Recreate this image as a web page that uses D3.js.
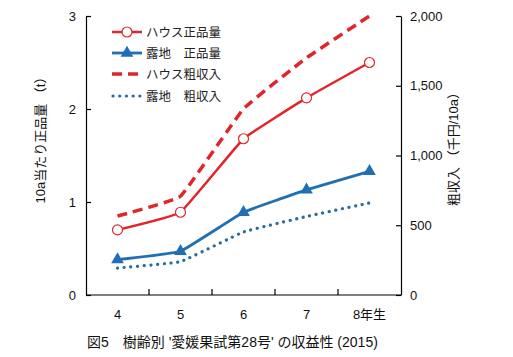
<!DOCTYPE html>
<html><head><meta charset="utf-8">
<script src="https://cdn.jsdelivr.net/npm/d3@7"></script>
<style>
body{margin:0;background:#fff;}
svg{display:block;font-family:"Liberation Sans","Noto Sans CJK JP",sans-serif;}
</style></head>
<body><svg id="c" width="513" height="357"></svg>
<script>
const years = ["4","5","6","7","8年生"];
const houseYield = [0.70, 0.89, 1.68, 2.12, 2.50];
const openYield = [0.38, 0.47, 0.89, 1.13, 1.33];
const houseRevenue = [566, 708, 1335, 1700, 2000];
const openRevenue = [193, 239, 452, 563, 660];
const leftTicks = [0,1,2,3];
const rightTicks = [0,500,1000,1500,2000];
const legendLabels = ["ハウス正品量","露地\u3000正品量","ハウス粗収入","露地\u3000粗収入"];
const caption = "図5\u3000樹齢別 '愛媛果試第28号' の収益性 (2015)";

const red = "#e0262b", blue = "#1f6fb5", dotBlue = "#2a6d9b";
const L = 86, R = 401, T = 16, B = 295;
const svg = d3.select("#c");
const x = d3.scaleBand().domain(years).range([L,R]).padding(0);
const yL = d3.scaleLinear().domain([0,3]).range([B,T]);
const yR = d3.scaleLinear().domain([0,2000]).range([B,T]);
const cx = d => x(d) + x.bandwidth()/2;
const curve = d3.curveCardinal.tension(0.75);

// axes
const gL = svg.append("g").attr("transform",`translate(${L},0)`)
  .call(d3.axisLeft(yL).tickValues(leftTicks).tickSizeInner(-5).tickSizeOuter(0).tickPadding(10).tickFormat(d3.format("d")));
const gR = svg.append("g").attr("transform",`translate(${R},0)`)
  .call(d3.axisRight(yR).tickValues(rightTicks).tickSizeInner(-5).tickSizeOuter(0).tickPadding(9).tickFormat(d3.format(",")));
[gL,gR].forEach(g=>{g.selectAll("text").attr("font-size",13).attr("fill","#111");
  g.selectAll("line,path").attr("stroke","#000").attr("stroke-width",1.2);});
// bottom axis
svg.append("line").attr("x1",L).attr("x2",R).attr("y1",B).attr("y2",B).attr("stroke","#000").attr("stroke-width",1.2);
years.slice(1).forEach(d=>{
  svg.append("line").attr("x1",x(d)).attr("x2",x(d)).attr("y1",B).attr("y2",B-6).attr("stroke","#000").attr("stroke-width",1.2);
});
years.forEach(d=>{
  svg.append("text").attr("x",cx(d)).attr("y",B+24).attr("text-anchor","middle")
    .attr("font-size",13).attr("fill","#111").text(d);
});

// axis titles
svg.append("text").attr("transform","translate(45,137) rotate(-90)").attr("text-anchor","middle")
  .attr("font-size",13).attr("fill","#111").text("10a当たり正品量 （t）");
svg.append("text").attr("transform","translate(458,146) rotate(-90)").attr("text-anchor","middle")
  .attr("font-size",13).attr("fill","#111").text("粗収入 （千円/10a）");

// caption
svg.append("text").attr("x",87).attr("y",347).attr("font-size",14).attr("fill","#111").text(caption);

// lines
const lineL = d3.line().x((d,i)=>cx(years[i])).y(d=>yL(d)).curve(curve);
const lineR = d3.line().x((d,i)=>cx(years[i])).y(d=>yR(d)).curve(curve);

svg.append("path").attr("d",lineR(houseRevenue)).attr("fill","none").attr("stroke",red)
  .attr("stroke-width",3.5).attr("stroke-dasharray","10,6");
svg.append("path").attr("d",lineR(openRevenue)).attr("fill","none").attr("stroke",dotBlue)
  .attr("stroke-width",3.2).attr("stroke-dasharray","0.1,6.6").attr("stroke-linecap","round");
svg.append("path").attr("d",lineL(houseYield)).attr("fill","none").attr("stroke",red).attr("stroke-width",2.5);
svg.append("path").attr("d",lineL(openYield)).attr("fill","none").attr("stroke",blue).attr("stroke-width",2.8);

svg.selectAll(".hc").data(houseYield).enter().append("circle")
  .attr("cx",(d,i)=>cx(years[i])).attr("cy",d=>yL(d)).attr("r",5)
  .attr("fill","#fff").attr("stroke",red).attr("stroke-width",1.2);
const tri = d3.symbol().type(d3.symbolTriangle).size(70);
svg.selectAll(".ot").data(openYield).enter().append("path")
  .attr("d",tri).attr("transform",(d,i)=>`translate(${cx(years[i])},${yL(d)})`).attr("fill",blue);

// legend
const legY = [32,53,74,96];
const lg = svg.append("g");
lg.append("line").attr("x1",112).attr("x2",142).attr("y1",legY[0]).attr("y2",legY[0]).attr("stroke",red).attr("stroke-width",2.5);
lg.append("circle").attr("cx",127).attr("cy",legY[0]).attr("r",5).attr("fill","#fff").attr("stroke",red).attr("stroke-width",1.2);
lg.append("line").attr("x1",112).attr("x2",142).attr("y1",legY[1]).attr("y2",legY[1]).attr("stroke",blue).attr("stroke-width",2.8);
lg.append("path").attr("d",tri).attr("transform",`translate(127,${legY[1]})`).attr("fill",blue);
lg.append("line").attr("x1",112).attr("x2",142).attr("y1",legY[2]).attr("y2",legY[2]).attr("stroke",red).attr("stroke-width",3.5).attr("stroke-dasharray","10,6");
lg.append("line").attr("x1",113).attr("x2",142).attr("y1",legY[3]).attr("y2",legY[3]).attr("stroke",dotBlue).attr("stroke-width",3.2).attr("stroke-dasharray","0.1,6.6").attr("stroke-linecap","round");
legendLabels.forEach((t,i)=>{
  lg.append("text").attr("x",146).attr("y",legY[i]+4.5).attr("font-size",12.5).attr("fill","#222").text(t);
});
</script></body></html>
